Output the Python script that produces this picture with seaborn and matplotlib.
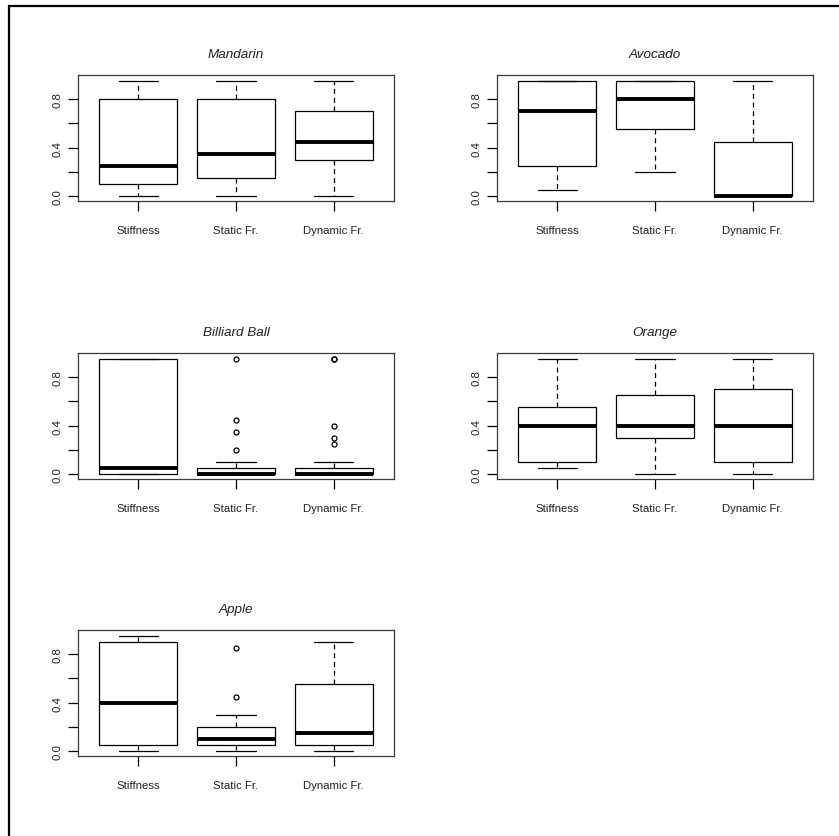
import matplotlib
matplotlib.use("Agg")
import matplotlib.pyplot as plt
from matplotlib.lines import Line2D
import numpy as np
import pandas as pd
import seaborn as sns

# Measures and objects
features = ["Stiffness", "Static Fr.", "Dynamic Fr."]
objects = ["Mandarin", "Avocado", "Billiard Ball", "Orange", "Apple"]

# Five-number summaries per measure: [lower whisker, Q1, median, Q3, upper whisker]
mandarin = [[0.00, 0.10, 0.25, 0.80, 0.95],
            [0.00, 0.15, 0.35, 0.80, 0.95],
            [0.00, 0.30, 0.45, 0.70, 0.95]]
avocado = [[0.05, 0.25, 0.70, 0.95, 0.95],
           [0.20, 0.55, 0.80, 0.95, 0.95],
           [0.00, 0.00, 0.00, 0.45, 0.95]]
billiard_ball = [[0.00, 0.00, 0.05, 0.95, 0.95],
                 [0.00, 0.00, 0.00, 0.05, 0.10],
                 [0.00, 0.00, 0.00, 0.05, 0.10]]
orange = [[0.05, 0.10, 0.40, 0.55, 0.95],
          [0.00, 0.30, 0.40, 0.65, 0.95],
          [0.00, 0.10, 0.40, 0.70, 0.95]]
apple = [[0.00, 0.05, 0.40, 0.90, 0.95],
         [0.00, 0.05, 0.10, 0.20, 0.30],
         [0.00, 0.05, 0.15, 0.55, 0.90]]

# Outlying ratings per measure
mandarin_out = [[], [], []]
avocado_out = [[], [], []]
billiard_ball_out = [[], [0.20, 0.35, 0.45, 0.95], [0.25, 0.30, 0.40, 0.95, 0.95]]
orange_out = [[], [], []]
apple_out = [[], [0.45, 0.85], []]

summaries = [mandarin, avocado, billiard_ball, orange, apple]
outliers = [mandarin_out, avocado_out, billiard_ball_out, orange_out, apple_out]


def ratings(summary, extra):
    """Ratings whose quartiles and whisker ends reproduce a five-number summary."""
    lo, q1, med, q3, hi = summary
    return [lo] + [q1] * 6 + [med] * 6 + [q3] * 6 + [hi] + list(extra)


sns.set_style("ticks")
plt.rcParams["font.family"] = ["Liberation Sans", "DejaVu Sans"]

W, H = 839, 837
fig = plt.figure(figsize=(W / 100, H / 100), dpi=100)

# Panel frames in pixels: (left, top, width, height)
lefts = [78, 497]
tops = [76, 354, 631]
pw, ph = 316, 126

frame_col = "#3a3a3a"
text_col = "#222222"

for i, (name, summ, outs) in enumerate(zip(objects, summaries, outliers)):
    row, col = divmod(i, 2)
    x0, y0 = lefts[col], tops[row]
    ax = fig.add_axes([x0 / W, 1 - (y0 + ph) / H, pw / W, ph / H])

    rows = []
    for feat, s, o in zip(features, summ, outs):
        for v in ratings(s, o):
            rows.append({"feature": feat, "value": v})
    df = pd.DataFrame(rows)

    sns.boxplot(
        data=df, x="feature", y="value", order=features, ax=ax,
        width=0.8, color="white", linecolor="black", linewidth=0.9,
        whis=1.5,
        whiskerprops=dict(linestyle=(0, (4, 3)), linewidth=0.9),
        capprops=dict(linewidth=0.9),
        medianprops=dict(linewidth=2.8, color="black", solid_capstyle="butt"),
        flierprops=dict(marker="o", markersize=3.6, markerfacecolor="none",
                        markeredgecolor="black", markeredgewidth=0.9),
    )

    ax.set_xlim(-0.62, 2.62)
    ax.set_ylim(-0.04, 0.998)
    ax.set_xlabel("")
    ax.set_ylabel("")
    ax.set_xticks([0, 1, 2])
    ax.set_xticklabels(features, fontsize=8.2, color=text_col)
    ax.set_yticks([0.0, 0.2, 0.4, 0.6, 0.8])
    ax.set_yticklabels(["0.0", "", "0.4", "", "0.8"], fontsize=8.2,
                       color=text_col, rotation=90, va="center")
    ax.tick_params(axis="x", length=7, width=0.9, pad=10, color="black")
    ax.tick_params(axis="y", length=7, width=0.9, pad=4, color="black")
    for sp in ax.spines.values():
        sp.set_visible(True)
        sp.set_color(frame_col)
        sp.set_linewidth(0.9)
    ax.set_title(name, fontsize=9.7, style="italic", pad=13, color=text_col)

# Outer border along the top and left edges
fig.add_artist(Line2D([9 / W, 9 / W], [0, 1 - 7 / H], transform=fig.transFigure,
                      color="black", linewidth=1.6))
fig.add_artist(Line2D([9 / W, 1], [1 - 7 / H, 1 - 7 / H], transform=fig.transFigure,
                      color="black", linewidth=1.6))

fig.savefig("out.png", dpi=100, facecolor="white")
